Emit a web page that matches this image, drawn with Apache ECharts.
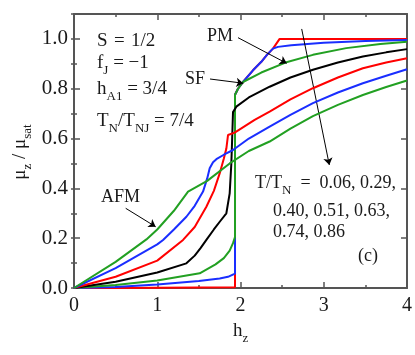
<!DOCTYPE html>
<html><head><meta charset="utf-8">
<script src="https://cdn.jsdelivr.net/npm/echarts@6/dist/echarts.min.js"></script>
<style>html,body{margin:0;padding:0;background:#fff}#c{width:415px;height:355px}</style>
</head><body><div id="c"></div>
<script>
// ---- data (h_z, mu_z/mu_sat) ----
const temps = ['0.06', '0.29', '0.40', '0.51', '0.63', '0.74', '0.86'];
const xTickValues = [0, 1, 2, 3, 4];
const yTickValues = [0.0, 0.2, 0.4, 0.6, 0.8, 1.0];
const curveT006 = [[0,0],[0.5,0],[1.0,0.001],[1.5,0.002],[1.934,0.003],[1.934,0.776],[1.97,0.80],[2.03,0.827],[2.15,0.874],[2.25,0.908],[2.32,0.937],[2.39,0.961],[2.47,1.0],[4.0,1.0]];
const curveT029 = [[0,0],[0.5,0.004],[1.0,0.014],[1.5,0.028],[1.75,0.038],[1.85,0.045],[1.934,0.058],[1.934,0.776],[1.97,0.80],[2.03,0.827],[2.15,0.874],[2.25,0.908],[2.32,0.937],[2.39,0.961],[2.45,0.968],[2.61,0.975],[3.0,0.985],[3.5,0.992],[4.0,0.996]];
const curveT040 = [[0,0],[0.5,0.012],[1.0,0.03],[1.51,0.059],[1.7,0.095],[1.8,0.12],[1.87,0.15],[1.91,0.18],[1.934,0.205],[1.934,0.776],[1.97,0.80],[2.03,0.827],[2.25,0.865],[2.54,0.905],[2.87,0.936],[3.27,0.963],[3.68,0.980],[4.0,0.989]];
const curveT051 = [[0,0],[0.5,0.025],[1.0,0.062],[1.35,0.099],[1.45,0.13],[1.52,0.16],[1.59,0.193],[1.68,0.235],[1.76,0.27],[1.83,0.3],[1.87,0.38],[1.89,0.5],[1.9,0.6],[1.91,0.706],[1.95,0.728],[2.1,0.765],[2.35,0.808],[2.6,0.845],[2.87,0.876],[3.17,0.905],[3.47,0.929],[3.75,0.946],[4.0,0.959]];
const curveT063 = [[0,0],[0.5,0.045],[1.0,0.11],[1.31,0.193],[1.45,0.245],[1.59,0.326],[1.68,0.39],[1.75,0.46],[1.8,0.52],[1.83,0.56],[1.85,0.614],[1.93,0.624],[2.17,0.675],[2.35,0.708],[2.6,0.757],[2.87,0.802],[3.17,0.845],[3.47,0.882],[3.75,0.905],[4.0,0.922]];
const curveT074 = [[0,0],[0.5,0.08],[1.0,0.175],[1.07,0.193],[1.2,0.235],[1.35,0.286],[1.45,0.33],[1.55,0.387],[1.6,0.44],[1.63,0.481],[1.67,0.505],[1.71,0.517],[1.8,0.535],[1.91,0.554],[2.1,0.6],[2.35,0.648],[2.6,0.695],[2.87,0.742],[3.17,0.785],[3.47,0.822],[3.75,0.852],[4.0,0.878]];
const curveT086 = [[0,0],[0.5,0.105],[0.87,0.195],[1.0,0.235],[1.2,0.31],[1.37,0.387],[1.6,0.43],[1.87,0.50],[2.1,0.55],[2.35,0.588],[2.6,0.64],[2.87,0.69],[3.17,0.735],[3.47,0.775],[3.75,0.807],[4.0,0.833]];
// annotation arrows, in data coordinates [from, to]
const arrowPM = [[1.97, 1.005], [2.555, 0.902]];
const arrowSF = [[1.634, 0.839], [2.034, 0.822]];
const arrowT = [[2.735, 1.04], [3.067, 0.494]];
const arrowAFM = [[0.621, 0.32], [0.981, 0.246]];

// ---- styling ----
const FF = '"Liberation Serif", "Times New Roman", serif';
const curves = [curveT006, curveT029, curveT040, curveT051, curveT063, curveT074, curveT086];
const colors = ['#ff0000', '#1a2eff', '#22a022', '#000000', '#ff0000', '#1a2eff', '#22a022'];
const AX = '#555';
const TXT = '#1a1a1a';
const EN = '\u2002', TH = '\u2004';

const mctx = document.createElement('canvas').getContext('2d');
function tw(t, s) { mctx.font = s + 'px "Liberation Serif"'; return mctx.measureText(t).width; }
function richText(x, y, parts, size) {
  const els = []; let cx = x;
  parts.forEach(([t, sub]) => {
    const s = sub ? Math.round(size * 0.7) : size;
    els.push({ type: 'text', x: cx, y: sub ? y + size * 0.4 : y, silent: true,
      style: { text: t, fontFamily: FF, fontSize: s, fill: TXT, align: 'left', verticalAlign: 'middle' } });
    cx += tw(t, s);
  });
  return { els, width: cx - x };
}

const chart = echarts.init(document.getElementById('c'), null, { renderer: 'canvas' });

function xAx(pos, labels) {
  return { type: 'value', min: 0, max: 4, interval: 1, position: pos,
    axisLine: { show: true, onZero: false, lineStyle: { color: AX, width: 2 } },
    axisTick: { show: true, inside: true, length: 6, lineStyle: { color: AX, width: 1.5 } },
    minorTick: { show: true, splitNumber: 2, length: 3, lineStyle: { color: AX, width: 1.5 } },
    axisLabel: { show: labels, fontFamily: FF, fontSize: 20, color: TXT, margin: 8 },
    splitLine: { show: false }, minorSplitLine: { show: false } };
}
function yAx(pos, labels) {
  return { type: 'value', min: 0, max: 1.1, interval: 0.2, position: pos,
    axisLine: { show: true, onZero: false, lineStyle: { color: AX, width: 2 } },
    axisTick: { show: true, inside: true, length: 6, lineStyle: { color: AX, width: 1.5 } },
    axisLabel: { show: labels, fontFamily: FF, fontSize: 21, color: TXT, margin: 6,
      formatter: v => (yTickValues.some(t => Math.abs(t - v) < 1e-6) ? v.toFixed(1) : '') },
    splitLine: { show: false } };
}
function yMinor(pos) {
  return { type: 'value', min: 0, max: 1.1, interval: 0.1, position: pos,
    axisLine: { show: false }, axisLabel: { show: false }, splitLine: { show: false },
    axisTick: { show: true, inside: true, length: 3, lineStyle: { color: AX, width: 1.5 } } };
}

const series = curves.map((d, i) => ({
  name: 'T/TN=' + temps[i], type: 'line', data: d, xAxisIndex: 0, yAxisIndex: 0,
  showSymbol: false, symbol: 'none', lineStyle: { width: 2, color: colors[i] },
  itemStyle: { color: colors[i] }, z: 2 + i, animation: false, silent: true
}));
series.push({
  name: 'arrows', type: 'line', data: [], xAxisIndex: 0, yAxisIndex: 0, z: 20,
  markLine: { silent: true, animation: false, symbol: ['none', 'arrow'], symbolSize: 7,
    lineStyle: { color: '#000', width: 1, type: 'solid' }, label: { show: false },
    emphasis: { disabled: true },
    data: [arrowPM, arrowSF, arrowT, arrowAFM].map(a => [{ coord: a[0] }, { coord: a[1] }]) }
});

// text annotations
const g = [];
function add(x, y, parts, size) { const r = richText(x, y, parts, size || 18); r.els.forEach(e => g.push(e)); return r; }
add(97, 41, [['S' + TH + '=' + TH + '1/2', 0]], 19);
add(97, 63, [['f', 0], ['J', 1], [' = \u22121', 0]], 19);
add(97, 89, [['h', 0], ['A1', 1], [' = 3/4', 0]], 19);
add(97, 121, [['T', 0], ['N', 1], ['/T', 0], ['NJ', 1], [' = 7/4', 0]], 19);
add(207, 36, [['PM', 0]]);
add(185, 79, [['SF', 0]]);
add(101, 197, [['AFM', 0]]);
add(255, 183, [['T/T', 0], ['N', 1], [EN + '=' + EN + '0.06, 0.29,', 0]]);
add(273, 211, [['0.40, 0.51, 0.63,', 0]]);
add(273, 232, [['0.74, 0.86', 0]]);
add(358, 256, [['(c)', 0]]);
add(233, 331, [['h', 0], ['z', 1]], 19);
const yt = richText(0, 0, [['\u03bc', 0], ['z', 1], [' / \u03bc', 0], ['sat', 1]], 19);
yt.els.forEach(e => { e.x -= yt.width / 2; });
g.push({ type: 'group', x: 20, y: 152, rotation: Math.PI / 2, children: yt.els });

chart.setOption({
  animation: false,
  backgroundColor: '#ffffff',
  grid: { left: 74, right: 8, top: 14, bottom: 67, containLabel: false },
  xAxis: [xAx('bottom', true), xAx('top', false)],
  yAxis: [yAx('left', true), yAx('right', false), yMinor('left'), yMinor('right')],
  series: series,
  graphic: g
});
</script></body></html>
